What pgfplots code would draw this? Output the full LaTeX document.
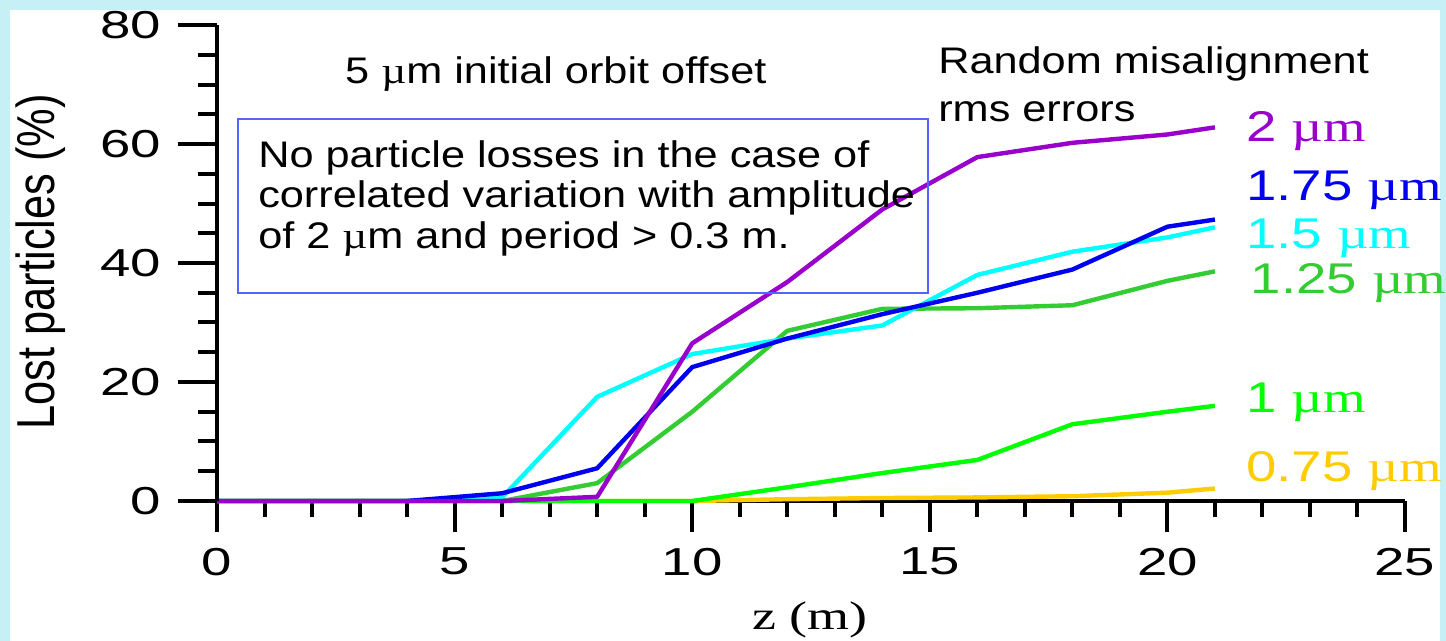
\documentclass[border=0pt]{standalone}
\usepackage{pgfplots}
\pgfplotsset{compat=1.18}
\usepackage{fontspec}
\setmainfont{Liberation Sans}
\newfontfamily\tickfont{Liberation Sans}[FakeStretch=1.4]
\newfontfamily\annfont{Liberation Sans}[FakeStretch=1.17]
\newfontfamily\annserif{Liberation Serif}[FakeStretch=1.17]
\newfontfamily\labfont{Liberation Sans}[FakeStretch=1.27]
\newfontfamily\labserif{Liberation Serif}[FakeStretch=1.27]
\newfontfamily\xlabfont{Liberation Serif}[FakeStretch=1.35]
\definecolor{cpurple}{RGB}{153,0,204}
\definecolor{cblue}{RGB}{0,0,240}
\definecolor{ccyan}{RGB}{0,255,255}
\definecolor{cgreen}{RGB}{51,204,51}
\definecolor{clgreen}{RGB}{0,255,0}
\definecolor{corange}{RGB}{255,204,0}
\definecolor{boxblue}{RGB}{85,100,255}
\definecolor{bgcyan}{RGB}{198,240,245}
\pgfplotstableread{
x   p    b    c    g    lg   o
0   0    0    0    0    0    0
2   0    0    0    0    0    0
4   0    0    0    0    0    0
6   0    1.3  0.6  0    0    0
8   0.7  5.5  17.5 3.0  0    0
10  26.5 22.5 24.7 15.0 0    0
12  36.8 27.3 27.3 28.6 2.3  0.3
14  49.0 31.4 29.5 32.3 4.7  0.5
16  57.8 35.0 38.0 32.4 6.9  0.6
18  60.2 38.9 41.9 32.9 12.9 0.8
20  61.6 46.1 44.3 37.0 15.0 1.4
21  62.8 47.3 46.0 38.6 16.0 2.1
}\datatable
\newcommand{\lab}[1]{\labfont\fontsize{21.5}{24}\selectfont #1 {\labserif µm}}
\begin{document}
\begin{tikzpicture}
\useasboundingbox (-108.5pt,-70pt) rectangle (614.5pt,250.5pt);
\fill[bgcyan] (-108.5pt,-70pt) rectangle (614.5pt,250.5pt);
\fill[white] (-103.5pt,-70pt) rectangle (611.5pt,245.5pt);
\begin{axis}[
  at={(0pt,0pt)}, anchor=south west,
  scale only axis, width=594pt, height=238pt,
  xmin=0, xmax=25, ymin=0, ymax=80,
  clip=false,
  axis x line*=bottom, hide y axis,
  axis line style={line width=2pt, black},
  xtick={0,5,...,25}, minor x tick num=4,
  tick align=outside, major tick length=15.5pt, minor tick length=8pt,
  tick style={line width=2pt, black},
  /pgf/number format/assume math mode=true,
  xticklabel style={font=\tickfont\fontsize{19.5}{20}\selectfont, yshift=-4.5pt},
]
\addplot[corange, line width=2.2pt, line join=round] table[x=x,y=o] {\datatable};
\addplot[clgreen, line width=2.2pt, line join=round] table[x=x,y=lg] {\datatable};
\addplot[cgreen, line width=2.2pt, line join=round] table[x=x,y=g] {\datatable};
\addplot[ccyan, line width=2.2pt, line join=round] table[x=x,y=c] {\datatable};
\addplot[cblue, line width=2.2pt, line join=round] table[x=x,y=b] {\datatable};
\addplot[cpurple, line width=2.2pt, line join=round] table[x=x,y=p] {\datatable};
% series labels
\node[anchor=west, text=cpurple, inner sep=0pt] at (axis cs:21.65,62.2) {\lab{2}};
\node[anchor=west, text=cblue, inner sep=0pt] at (axis cs:21.65,52.3) {\lab{1.75}};
\node[anchor=west, text=ccyan, inner sep=0pt] at (axis cs:21.65,44.2) {\lab{1.5}};
\node[anchor=west, text=cgreen, inner sep=0pt] at (axis cs:21.75,36.6) {\lab{1.25}};
\node[anchor=west, text=clgreen, inner sep=0pt] at (axis cs:21.65,16.6) {\lab{1}};
\node[anchor=west, text=corange, inner sep=0pt] at (axis cs:21.65,5.0) {\lab{0.75}};
% annotations
\node[anchor=base west, inner sep=0pt, font=\annfont\fontsize{18.5}{20}\selectfont] at (axis cs:2.69,70.2) {5 {\annserif µ}m initial orbit offset};
\node[anchor=base west, inner sep=0pt, font=\annfont\fontsize{18.5}{20}\selectfont] at (axis cs:15.17,71.9) {Random misalignment};
\node[anchor=base west, inner sep=0pt, font=\annfont\fontsize{18.5}{20}\selectfont] at (axis cs:15.17,63.7) {rms errors};
\draw[boxblue, line width=0.8pt] (axis cs:0.44,64.2) rectangle (axis cs:14.96,34.96);
\node[anchor=base west, inner sep=0pt, font=\annfont\fontsize{18.5}{20}\selectfont] at (axis cs:0.86,55.97) {No particle losses in the case of};
\node[anchor=base west, inner sep=0pt, font=\annfont\fontsize{18.5}{20}\selectfont] at (axis cs:0.86,49.25) {correlated variation with amplitude};
\node[anchor=base west, inner sep=0pt, font=\annfont\fontsize{18.5}{20}\selectfont] at (axis cs:0.86,42.52) {of 2 {\annserif µ}m and period > 0.3 m.};
% axis labels
\node[rotate=90, inner sep=0pt, font=\fontsize{21.7}{24}\selectfont] at (axis cs:-3.70,40.2) {\scalebox{1}[1.23]{Lost particles (\%)}};
\node[inner sep=0pt, font=\xlabfont\fontsize{20}{22}\selectfont] at (axis cs:12.48,-20.0) {z (m)};
\end{axis}
\begin{axis}[
  at={(0pt,0pt)}, anchor=south west,
  scale only axis, width=594pt, height=238pt,
  xmin=0, xmax=25, ymin=0, ymax=80,
  hide x axis, axis y line*=left,
  axis line style={line width=2pt, black},
  ytick={0,20,...,80}, minor y tick num=3,
  tick align=outside, major tick length=19.5pt, minor tick length=9.5pt,
  tick style={line width=2pt, black},
  /pgf/number format/assume math mode=true,
  yticklabel style={font=\tickfont\fontsize{19.5}{20}\selectfont, xshift=-5pt},
]
\addplot[draw=none] coordinates {(0,0)};
\end{axis}
\end{tikzpicture}
\end{document}
